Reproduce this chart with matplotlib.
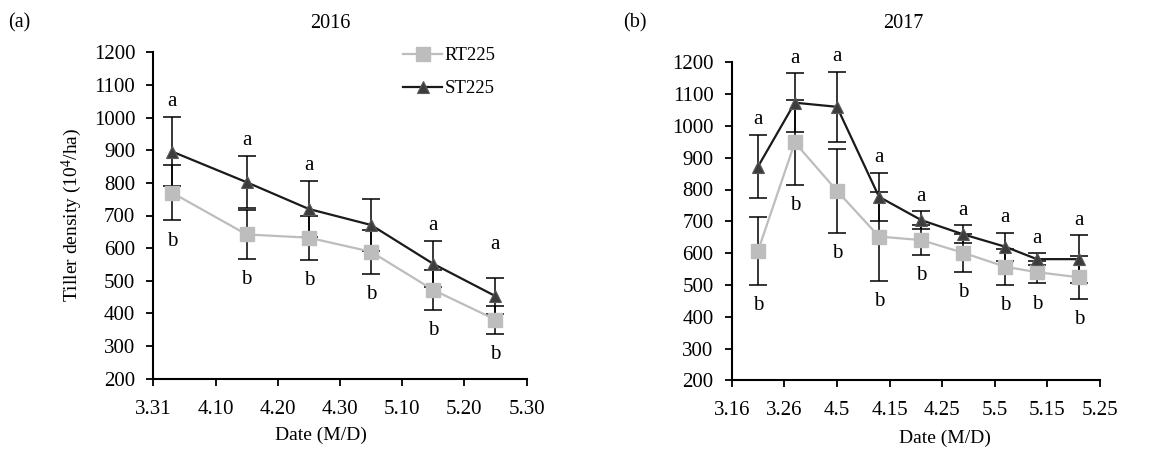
import datetime as dt
import matplotlib
matplotlib.use('Agg')
import matplotlib.pyplot as plt
from matplotlib.ticker import FixedLocator, FuncFormatter, MultipleLocator
import matplotlib.dates as mdates

plt.rcParams['font.family'] = ['Liberation Serif', 'DejaVu Serif']
plt.rcParams['mathtext.fontset'] = 'custom'
plt.rcParams['mathtext.rm'] = 'Liberation Serif'
plt.rcParams['mathtext.it'] = 'Liberation Serif:italic'

# ---------------- data ----------------
series_names = ['RT225', 'ST225']

dates_2016 = ['2016-04-03', '2016-04-15', '2016-04-25', '2016-05-05', '2016-05-15', '2016-05-25']
rt_2016 = [770, 642, 632, 589, 472, 381]
rt_err_2016 = [85, 75, 67, 68, 60, 43]
st_2016 = [896, 802, 720, 671, 552, 453]
st_err_2016 = [107, 80, 87, 81, 71, 56]
top_letters_2016 = ['a', 'a', 'a', '', 'a', 'a']
bottom_letters_2016 = ['b', 'b', 'b', 'b', 'b', 'b']
ticks_2016 = ['2016-03-31', '2016-04-10', '2016-04-20', '2016-04-30', '2016-05-10', '2016-05-20', '2016-05-30']

dates_2017 = ['2017-03-21', '2017-03-28', '2017-04-05', '2017-04-13', '2017-04-21',
              '2017-04-29', '2017-05-07', '2017-05-13', '2017-05-21']
rt_2017 = [607, 948, 796, 652, 641, 601, 557, 540, 524]
rt_err_2017 = [106, 134, 132, 139, 46, 60, 56, 35, 68]
st_2017 = [872, 1073, 1060, 777, 704, 659, 620, 581, 581]
st_err_2017 = [100, 92, 110, 75, 27, 28, 44, 18, 75]
top_letters_2017 = ['a'] * 9
bottom_letters_2017 = ['b'] * 9
ticks_2017 = ['2017-03-16', '2017-03-26', '2017-04-05', '2017-04-15', '2017-04-25',
              '2017-05-05', '2017-05-15', '2017-05-25']

y_min, y_max, y_step = 200, 1200, 100

# ---------------- style ----------------
FS = 13.5
FS_TICK = 15
FS_LET = 15
RT_COLOR = '#BDBDBD'
ST_LINE = '#1a1a1a'
ST_FACE = '#3c3c3c'
ST_EDGE = '#5a5a5a'

W, H = 1170, 459
fig = plt.figure(figsize=(W / 100, H / 100), dpi=100)


def to_dates(lst):
    return [dt.datetime.strptime(s, '%Y-%m-%d') for s in lst]


def fmt(x, pos):
    d = mdates.num2date(x)
    return f'{d.month}.{d.day}'


def panel(rect, dates, rt, rte, st, ste, tops, bots, ticks, special_top=None):
    ax = fig.add_axes(rect)
    xd = to_dates(dates)
    tk = to_dates(ticks)
    ax.errorbar(xd, rt, yerr=rte, fmt='none', ecolor='black', elinewidth=1.1,
                capsize=6.5, capthick=1.1, zorder=2)
    ax.errorbar(xd, st, yerr=ste, fmt='none', ecolor='black', elinewidth=1.1,
                capsize=6.5, capthick=1.1, zorder=2)
    ax.plot(xd, rt, color=RT_COLOR, lw=1.6, marker='s', ms=9.5,
            mfc=RT_COLOR, mec=RT_COLOR, zorder=3, label=series_names[0])
    ax.plot(xd, st, color=ST_LINE, lw=1.6, marker='^', ms=9,
            mfc=ST_FACE, mec=ST_EDGE, mew=0.8, zorder=4, label=series_names[1])
    for i, (x, v, e, t) in enumerate(zip(xd, st, ste, tops)):
        if t:
            off = 11
            if special_top and i in special_top:
                off = special_top[i]
            ax.annotate(t, (x, v + e), xytext=(0, off), textcoords='offset points',
                        ha='center', va='center', fontsize=FS_LET, annotation_clip=False)
    for x, v, e, t in zip(xd, rt, rte, bots):
        if t:
            ax.annotate(t, (x, v - e), xytext=(0, -15), textcoords='offset points',
                        ha='center', va='center', fontsize=FS_LET, annotation_clip=False)
    ax.set_xlim(mdates.date2num(tk[0]), mdates.date2num(tk[-1]))
    ax.set_ylim(y_min, y_max)
    ax.xaxis.set_major_locator(FixedLocator(mdates.date2num(tk)))
    ax.xaxis.set_major_formatter(FuncFormatter(fmt))
    ax.yaxis.set_major_locator(MultipleLocator(y_step))
    for s in ['top', 'right']:
        ax.spines[s].set_visible(False)
    for s in ['left', 'bottom']:
        ax.spines[s].set_linewidth(1.5)
    ax.tick_params(axis='both', direction='out', length=5, width=1.3, labelsize=FS_TICK)
    ax.tick_params(axis='x', pad=10)
    ax.tick_params(axis='y', pad=8)
    ax.patch.set_alpha(0)
    return ax


ax1 = panel([153.3 / W, 1 - 378.7 / H, (526.5 - 153.3) / W, (378.7 - 52.3) / H],
            dates_2016, rt_2016, rt_err_2016, st_2016, st_err_2016,
            top_letters_2016, bottom_letters_2016, ticks_2016, special_top={5: 24})
ax2 = panel([731.7 / W, 1 - 380.3 / H, (1100 - 731.7) / W, (380.3 - 62.3) / H],
            dates_2017, rt_2017, rt_err_2017, st_2017, st_err_2017,
            top_letters_2017, bottom_letters_2017, ticks_2017)

leg = ax1.legend(loc='upper left', bbox_to_anchor=(403 / W, 1 - 47 / H),
                 bbox_transform=fig.transFigure, frameon=False, fontsize=FS,
                 handlelength=2.1, handletextpad=0.1, labelspacing=0.85, borderpad=0,
                 borderaxespad=0)

fig.text(8 / W, 1 - 23 / H, '(a)', fontsize=14.5, ha='left', va='center')
fig.text(330 / W, 1 - 23 / H, '2016', fontsize=14.5, ha='center', va='center')
fig.text(623 / W, 1 - 23 / H, '(b)', fontsize=14.5, ha='left', va='center')
fig.text(903 / W, 1 - 23 / H, '2017', fontsize=14.5, ha='center', va='center')
fig.text(321 / W, 1 - 435 / H, 'Date (M/D)', fontsize=14, ha='center', va='center')
fig.text(945 / W, 1 - 438 / H, 'Date (M/D)', fontsize=14, ha='center', va='center')
fig.text(72 / W, 1 - 215 / H, r'Tiller density (10$^{4}$/ha)', fontsize=14,
         ha='center', va='center', rotation=90)

fig.savefig('out.png', dpi=100)
